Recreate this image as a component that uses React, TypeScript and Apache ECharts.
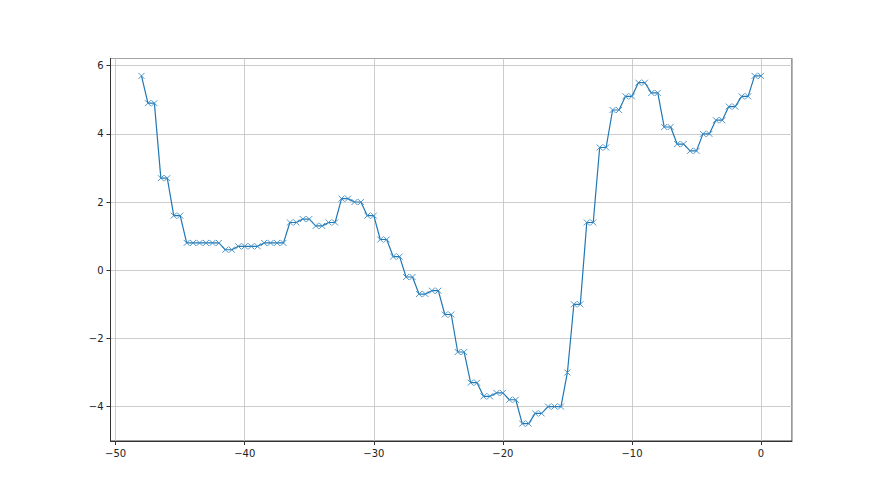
import React, { useEffect, useRef } from "react";
import * as echarts from "echarts";

const xValues: number[] = [
  -48, -47.5, -47, -46.5, -46, -45.5, -45, -44.5, -44, -43.5, -43, -42.5, -42,
  -41.5, -41, -40.5, -40, -39.5, -39, -38.5, -38, -37.5, -37, -36.5, -36,
  -35.5, -35, -34.5, -34, -33.5, -33, -32.5, -32, -31.5, -31, -30.5, -30,
  -29.5, -29, -28.5, -28, -27.5, -27, -26.5, -26, -25.5, -25, -24.5, -24,
  -23.5, -23, -22.5, -22, -21.5, -21, -20.5, -20, -19.5, -19, -18.5, -18,
  -17.5, -17, -16.5, -16, -15.5, -15, -14.5, -14, -13.5, -13, -12.5, -12,
  -11.5, -11, -10.5, -10, -9.5, -9, -8.5, -8, -7.5, -7, -6.5, -6, -5.5, -5,
  -4.5, -4, -3.5, -3, -2.5, -2, -1.5, -1, -0.5, 0,
];

const yValues: number[] = [
  5.7, 4.9, 4.9, 2.7, 2.7, 1.6, 1.6, 0.8, 0.8, 0.8, 0.8, 0.8, 0.8,
  0.6, 0.6, 0.7, 0.7, 0.7, 0.7, 0.8, 0.8, 0.8, 0.8, 1.4, 1.4,
  1.5, 1.5, 1.3, 1.3, 1.4, 1.4, 2.1, 2.1, 2.0, 2.0, 1.6, 1.6,
  0.9, 0.9, 0.4, 0.4, -0.2, -0.2, -0.7, -0.7, -0.6, -0.6, -1.3, -1.3,
  -2.4, -2.4, -3.3, -3.3, -3.7, -3.7, -3.6, -3.6, -3.8, -3.8, -4.5, -4.5,
  -4.2, -4.2, -4.0, -4.0, -4.0, -3.0, -1.0, -1.0, 1.4, 1.4, 3.6, 3.6,
  4.7, 4.7, 5.1, 5.1, 5.5, 5.5, 5.2, 5.2, 4.2, 4.2, 3.7, 3.7, 3.5, 3.5,
  4.0, 4.0, 4.4, 4.4, 4.8, 4.8, 5.1, 5.1, 5.7, 5.7,
];

const xLimits: [number, number] = [-50.4, 2.4];
const yLimits: [number, number] = [-5.01, 6.21];

const fmt = (v: number) => String(v).replace("-", "\u2212");

export default function App() {
  const ref = useRef<HTMLDivElement>(null);
  useEffect(() => {
    if (!ref.current) return;
    const chart = echarts.init(ref.current, null, { renderer: "svg" });
    const axisCommon = {
      type: "value" as const,
      axisLine: { show: true, onZero: false, lineStyle: { color: "#333", width: 1 } },
      axisTick: { show: true, length: 4, lineStyle: { color: "#333", width: 1 } },
      axisLabel: {
        color: "#222",
        fontFamily: "DejaVu Sans",
        fontSize: 10,
        showMinLabel: false,
        showMaxLabel: false,
        formatter: (v: number) => fmt(v),
      },
      splitLine: { show: true, lineStyle: { color: "#c0c0c0", width: 0.8 } },
    };
    chart.setOption({
      animation: false,
      backgroundColor: "#fff",
      grid: {
        left: 110.5,
        top: 58.5,
        width: 681.5,
        height: 382.5,
        show: true,
        borderColor: "#333",
        borderWidth: 1,
      },
      xAxis: {
        ...axisCommon,
        min: xLimits[0],
        max: xLimits[1],
        axisLabel: { ...axisCommon.axisLabel, margin: 7 },
      },
      yAxis: {
        ...axisCommon,
        min: yLimits[0],
        max: yLimits[1],
        axisLabel: { ...axisCommon.axisLabel, margin: 7 },
      },
      series: [
        {
          type: "line",
          data: xValues.map((x, i) => [x, yValues[i]]),
          lineStyle: { color: "#1f77b4", width: 1.2 },
          symbol: "path://M0,0L10,10M10,0L0,10",
          symbolSize: 6,
          showAllSymbol: true,
          itemStyle: { color: "#1f77b4", borderColor: "#3b8ac4", borderWidth: 0.9 },
          z: 3,
        },
      ],
    });
    return () => chart.dispose();
  }, []);
  return (
    <div
      ref={ref}
      style={{ position: "fixed", left: 0, top: 0, width: 880, height: 495 }}
    />
  );
}
